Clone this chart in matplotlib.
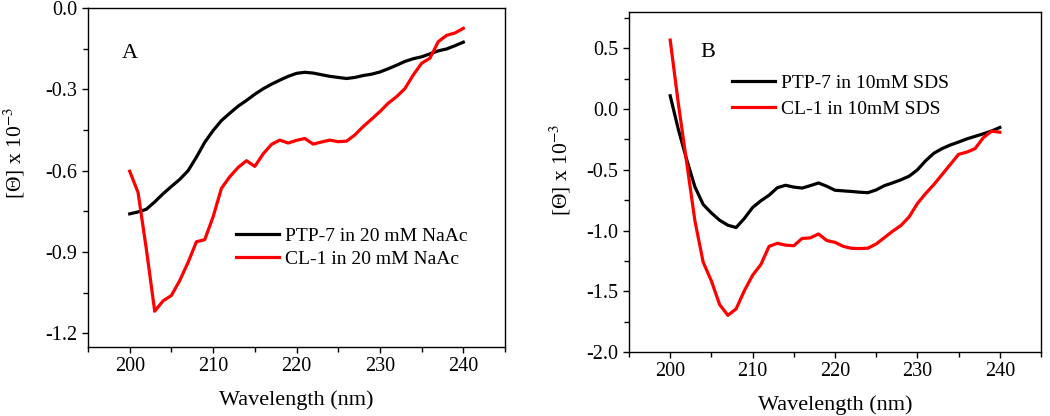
import numpy as np
import matplotlib
matplotlib.use("Agg")
import matplotlib.pyplot as plt
from matplotlib.ticker import MultipleLocator

plt.rcParams['font.family'] = ['Liberation Serif', 'DejaVu Serif']
plt.rcParams['mathtext.fontset'] = 'stix'
plt.rcParams['axes.unicode_minus'] = False

wavelength = list(range(200, 241))

ptp7_naac = [-0.759, -0.752, -0.742, -0.715, -0.685, -0.658, -0.632, -0.600, -0.550, -0.495,
             -0.452, -0.415, -0.388, -0.362, -0.341, -0.318, -0.298, -0.281, -0.266, -0.252,
             -0.241, -0.237, -0.240, -0.246, -0.252, -0.256, -0.260, -0.256, -0.249, -0.244,
             -0.236, -0.224, -0.211, -0.197, -0.187, -0.180, -0.169, -0.158, -0.151, -0.139,
             -0.126]
cl1_naac = [-0.602, -0.680, -0.890, -1.118, -1.080, -1.060, -1.005, -0.938, -0.862, -0.854,
            -0.770, -0.665, -0.622, -0.588, -0.563, -0.584, -0.538, -0.503, -0.487, -0.498,
            -0.488, -0.481, -0.502, -0.494, -0.487, -0.493, -0.491, -0.468, -0.437, -0.410,
            -0.382, -0.351, -0.327, -0.297, -0.247, -0.204, -0.185, -0.124, -0.101, -0.092,
            -0.075]
ptp7_sds = [0.110, -0.170, -0.415, -0.640, -0.785, -0.855, -0.915, -0.956, -0.975, -0.900,
            -0.810, -0.755, -0.709, -0.647, -0.627, -0.642, -0.650, -0.630, -0.608, -0.635,
            -0.668, -0.673, -0.678, -0.684, -0.688, -0.665, -0.630, -0.607, -0.582, -0.552,
            -0.500, -0.425, -0.363, -0.325, -0.295, -0.271, -0.245, -0.224, -0.203, -0.180,
            -0.151]
cl1_sds = [0.569, 0.040, -0.440, -0.920, -1.260, -1.415, -1.610, -1.698, -1.645, -1.495,
           -1.368, -1.280, -1.130, -1.105, -1.120, -1.125, -1.065, -1.060, -1.028, -1.082,
           -1.097, -1.130, -1.146, -1.148, -1.145, -1.110, -1.058, -1.005, -0.958, -0.887,
           -0.777, -0.695, -0.621, -0.538, -0.455, -0.372, -0.354, -0.325, -0.235, -0.181,
           -0.190]

labels_a = ["PTP-7 in 20 mM NaAc", "CL-1 in 20 mM NaAc"]
labels_b = ["PTP-7 in 10mM SDS", "CL-1 in 10mM SDS"]

fig = plt.figure(figsize=(10.5, 4.16), dpi=100)
axA = fig.add_axes([88/1050, 69/416, 417/1050, 339/416])
axB = fig.add_axes([629/1050, 64/416, 412/1050, 340/416])

lw = 2.3
for ax, (k, r), labs, ylim, major, minor, panel, ppos, lpos, lsp in [
        (axA, (ptp7_naac, cl1_naac), labels_a, (-1.25, 0.0), 0.3, 0.15, "A", (0.101, 0.867), (0.336, 0.375), 0.25),
        (axB, (ptp7_sds, cl1_sds), labels_b, (-2.0, 0.8), 0.5, 0.25, "B", (0.192, 0.882), (0.232, 0.84), 0.45)]:
    ax.plot(wavelength, k, color='black', lw=lw, label=labs[0])
    ax.plot(wavelength, r, color='#ff0000', lw=lw, label=labs[1])
    ax.set_xlim(195, 245)
    ax.set_ylim(*ylim)
    ax.xaxis.set_major_locator(MultipleLocator(10))
    ax.xaxis.set_minor_locator(MultipleLocator(5))
    ax.yaxis.set_major_locator(MultipleLocator(major))
    ax.yaxis.set_minor_locator(MultipleLocator(minor))
    ax.yaxis.set_major_formatter(matplotlib.ticker.FormatStrFormatter('%.1f'))
    ax.tick_params(which='major', direction='out', length=4, width=1, labelsize=14.5)
    ax.tick_params(which='minor', direction='out', length=3.5, width=1)
    for s in ax.spines.values():
        s.set_linewidth(1)
    ax.set_xlabel("Wavelength (nm)", fontsize=16, labelpad=10)
    ax.set_ylabel("[Θ] x 10$^{-3}$", fontsize=15.5)
    ax.text(ppos[0], ppos[1], panel, transform=ax.transAxes, fontsize=16, ha='center', va='center')
    ax.legend(loc='upper left', bbox_to_anchor=lpos, frameon=False, fontsize=14,
              handlelength=2.2, handletextpad=0.3, labelspacing=lsp, borderaxespad=0)

axA.yaxis.set_label_coords(-0.146, 0.572)
axB.yaxis.set_label_coords(-0.136, 0.535)

fig.savefig("out.png", dpi=100)
